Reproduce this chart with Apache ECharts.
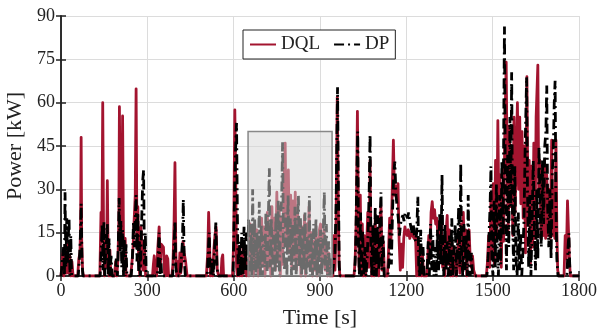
<!DOCTYPE html>
<html><head><meta charset="utf-8">
<script src="https://cdn.jsdelivr.net/npm/echarts@6/dist/echarts.min.js"></script>
<style>html,body{margin:0;padding:0;background:#fff}#c{width:600px;height:333px}</style>
</head><body><div id="c"></div>
<script>
const xTicks = [0, 300, 600, 900, 1200, 1500, 1800];
const yTicks = [0, 15, 30, 45, 60, 75, 90];
const seriesNames = ['DQL', 'DP'];
const zoomBox = [650, 0, 942, 50];

const dqlData = [
[0,0],[4,0],[7,8],[10,0],[14,9],[18,1],[22,11],[26,1],[30,7],[34,0],[38,5],[42,0],
[58,0],[62,6],[66,8],[68,18],[70,48],[72,12],[75,2],[78,0],
[135,0],[139,22],[142,12],[145,60],[148,14],[151,0],[155,12],[158,3],[161,33],[164,5],[167,0],[170,9],[173,0],
[186,0],[190,5],[194,0],[198,6],[201,20],[203,58.6],[206,22],[209,12],[212,30],[214,55.4],[217,14],[220,3],[223,13],[226,0],[229,0],
[242,0],[246,4],[250,9],[254,19],[258,28],[261,64.8],[264,10],[267,24],[270,5],[274,0],[278,17],[282,6],[286,2],[290,12],[294,0],[298,0],
[318,0],[321,4],[324,7],[328,1],[332,0],[336,9],[341,17],[345,2],[348,11],[352,11],[356,10],[360,1],[364,0],[367,7],[371,6],[374,0],
[385,0],[389,4],[393,19],[396,39.2],[399,8],[402,0],[406,5],[410,0],[413,8],[416,1],[420,4],[424,12],[428,8],[433,5],[438,0],
[505,0],[510,8],[513,22],[516,12],[519,0],[523,5],[527,0],[531,9],[535,14],[539,17],[543,2],[548,0],[556,0],[559,6],[562,7.3],[565,0],
[596,0],[600,12],[604,57.5],[607,35],[610,3],[613,0],[617,10],[621,0],[625,8],[629,0],[633,12],[637,1],[641,10],[645,0],[649,6],
[653,0],[657,18],[661,2],[665,15],[669,0],[673,18],[677,3],[681,16],[685,0],[689,12],[693,2],[697,20],[701,4],[705,17],[709,0],[713,14],[717,22],[721,3],[725,18],[729,0],[733,24],[737,6],[741,20],[745,2],[750,29],[754,5],[758,24],[762,0],[766,20],[770,4],[775,32],[779,46],[783,12],[787,30],[790,36.7],[794,8],[798,28],[802,3],[806,26],[810,6],[814,29],[818,2],[822,22],[826,5],[830,19],[834,0],[838,17],[842,3],[846,21],[850,0],[854,18],[858,4],[862,24],[866,2],[870,15],[874,0],[878,12],[882,2],[886,14],[890,0],[894,10],[898,16],[902,18],[906,3],[910,12],[914,16],[918,2],[922,11],[926,0],[930,8],[934,0],[938,0],
[945,0],[948,14],[952,2],[956,20],[960,62],[963,30],[966,5],[969,0],[973,0],
[1018,0],[1022,5],[1026,20],[1030,57],[1033,25],[1036,2],[1040,28],[1043,2],[1047,18],[1050,0],[1054,14],[1058,0],[1062,10],[1066,22],[1070,3],[1074,40],[1077,8],[1080,0],[1084,14],[1088,0],[1092,20],[1096,2],[1100,14],[1104,0],[1108,18],[1112,24],[1116,2],[1120,12],[1124,0],[1134,0],[1138,8],[1142,20],[1146,10],[1150,25],[1155,47],[1159,28],[1163,31],[1167,29],[1171,32],[1175,12],[1179,2],[1183,11],[1187,3],[1191,13],[1195,17],[1199,15],[1203,14],[1207,16],[1212,13],[1217,15],[1222,14],[1227,13],[1232,14],[1236,0],[1240,12],[1244,0],[1248,10],[1252,0],[1256,8],[1260,0],[1264,0],
[1270,0],[1274,6],[1278,14],[1282,6],[1286,22],[1290,25.7],[1294,20],[1298,23],[1302,18],[1306,20],[1310,14],[1314,19],[1318,6],[1322,18],[1326,3],[1330,12],[1334,0],[1338,15],[1342,21],[1346,4],[1350,16],[1354,0],[1358,12],[1362,0],[1366,10],[1370,3],[1374,0],[1378,8],[1382,14],[1386,1],[1390,18],[1394,3],[1398,22],[1402,6],[1406,16],[1410,0],[1414,12],[1418,16],[1422,6],[1426,3],[1430,7],[1434,2],[1440,0],
[1478,0],[1482,5],[1486,14],[1490,3],[1494,28],[1498,6],[1502,32],[1506,4],[1510,40],[1514,12],[1518,53.8],[1522,18],[1526,35],[1530,3],[1534,30],[1538,12],[1542,48],[1547,74],[1550,40],[1554,16],[1558,52],[1562,24],[1566,45],[1570,14],[1574,55],[1578,22],[1582,42],[1586,60],[1590,30],[1594,55],[1598,25],[1602,50],[1606,20],[1610,45],[1614,8],[1619,69],[1623,20],[1627,40],[1631,4],[1635,38],[1639,10],[1643,46],[1647,13],[1651,55],[1657,73],[1660,30],[1664,40],[1668,13],[1672,38],[1676,14],[1680,40],[1684,13],[1688,35],[1692,14],[1696,30],[1700,13],[1705,47],[1709,14],[1713,30],[1716,13],[1720,47],[1723,16],[1726,2],[1730,0],[1748,0],[1752,14],[1756,6],[1760,26],[1764,25.5],[1767,5],[1770,0],[1800,0]
];

const dpData = [
[0,0],[6,0],[9,10],[12,0],[14,29],[17,3],[20,20],[23,4],[26,15],[28,20],[31,0],[34,14],[37,0],[40,0],
[60,0],[64,6],[67,12],[70,25],[73,5],[76,0],
[136,0],[140,10],[143,18],[146,2],[149,19],[152,0],[155,8],[158,12],[161,18],[164,0],[167,13],[170,0],[174,7],[178,0],
[188,0],[192,6],[196,0],[199,10],[202,27],[205,8],[208,19],[211,3],[214,16],[217,0],[220,13],[223,0],[226,11],[229,0],
[244,0],[248,6],[252,19],[255,10],[258,20],[261,28],[264,5],[267,22],[270,0],[273,12],[276,0],[280,18],[284,33],[287,36.7],[290,4],[293,15],[296,0],
[335,0],[338,8],[341,15],[344,0],[347,6],[350,0],
[388,0],[392,8],[396,19],[399,3],[403,0],[407,0],[414,0],[418,6],[422,12],[425,26.5],[428,6],[432,0],[436,0],
[508,0],[512,9],[515,15],[518,2],[522,0],[526,6],[530,0],[534,10],[538,18.5],[542,3],[546,0],
[598,0],[602,22],[606,42],[610,53],[613,20],[616,0],[620,12],[624,0],[628,15],[632,0],[636,17],[640,2],[644,15],[648,2],
[652,20],[656,0],[660,18],[663,0],[666,30],[669,2],[673,20],[677,0],[681,15],[685,2],[689,25.7],[692,0],[696,18],[700,0],[704,14],[708,3],[712,22],[716,0],[720,18],[724,37.3],[727,3],[731,20],[735,0],[739,16],[743,1],[747,22],[751,3],[755,26],[759,0],[763,18],[767,28],[770,46.3],[773,8],[777,2],[781,22],[785,0],[789,28],[793,5],[797,20],[801,0],[805,18],[809,2],[813,24],[817,0],[821,15],[825,28],[828,3],[832,20],[836,0],[840,17],[844,2],[848,22],[852,0],[856,14],[860,3],[863,27.7],[866,0],[870,15],[874,0],[878,18],[882,2],[886,20],[890,0],[894,13],[898,1],[902,16],[906,0],[910,10],[915,29.2],[918,2],[922,18],[926,0],[930,12],[934,0],[938,6],[942,0],
[948,0],[952,8],[956,25],[959,50],[961,65.3],[964,30],[967,3],[970,0],
[1020,0],[1024,10],[1028,35],[1031,50],[1034,10],[1037,0],[1041,22],[1044,0],[1048,16],[1052,0],[1056,10],[1060,0],[1064,6],[1068,18],[1071,30],[1074,49],[1077,10],[1080,0],[1084,18],[1088,0],[1092,24],[1096,0],[1100,21],[1104,2],[1108,18],[1112,29],[1115,2],[1119,14],[1123,0],[1127,0],[1136,0],[1140,6],[1144,18],[1148,4],[1152,22],[1156,35],[1160,39.6],[1164,28],[1168,24],[1172,20],[1176,14],[1180,18],[1184,20],[1188,21],[1192,19],[1196,22],[1200,21],[1204,20],[1208,22],[1212,19],[1216,17],[1220,15],[1224,18],[1228,14],[1232,12],[1236,15],[1240,27.4],[1243,4],[1246,0],[1250,16],[1254,0],[1258,10],[1262,0],
[1272,0],[1276,12],[1280,0],[1284,18],[1288,2],[1292,14],[1296,0],[1300,10],[1304,0],[1308,16],[1312,2],[1316,22],[1320,4],[1324,35],[1327,8],[1330,0],[1334,18],[1338,2],[1342,12],[1346,0],[1350,14],[1354,0],[1358,20],[1362,0],[1366,10],[1370,18],[1374,0],[1378,12],[1382,24],[1386,3],[1389,39],[1392,8],[1396,0],[1400,18],[1404,2],[1408,14],[1412,0],[1415,28],[1418,5],[1422,0],[1426,8],[1430,0],
[1480,0],[1484,6],[1488,16],[1491,24],[1494,38],[1497,6],[1501,0],[1505,26],[1509,3],[1513,32],[1516,8],[1520,0],[1524,28],[1528,4],[1532,40],[1536,14],[1539,60],[1541,86.4],[1544,30],[1548,2],[1552,42],[1556,10],[1560,55],[1563,24],[1566,70.5],[1569,20],[1573,2],[1577,38],[1581,6],[1585,0],[1589,22],[1593,2],[1597,15],[1601,0],[1605,8],[1609,20],[1613,45],[1618,68.8],[1621,30],[1625,3],[1629,28],[1633,0],[1637,18],[1641,40],[1645,15],[1649,2],[1653,30],[1657,6],[1661,45],[1665,24],[1669,10],[1673,40],[1677,18],[1681,45],[1685,50],[1688,65.9],[1691,24],[1695,10],[1699,30],[1703,6],[1707,35],[1711,45],[1714,60],[1717,67.6],[1720,24],[1723,6],[1727,0],[1731,0],[1758,0],[1762,10],[1765,14.8],[1768,3],[1772,0],[1800,0]
];

const FONT = 'Liberation Serif';
const chart = echarts.init(document.getElementById('c'), null, {renderer: 'canvas'});
const axisCommon = {
  axisLine: {show: true, lineStyle: {color: '#222', width: 1.5}},
  axisTick: {show: true, inside: true, length: 5, lineStyle: {color: '#222', width: 1.5}},
};
chart.setOption({
  animation: false,
  grid: {left: 61, right: 21, top: 16, bottom: 57, outerBoundsMode: 'none', containLabel: false},
  legend: {
    data: seriesNames,
    left: 243, top: 30,
    orient: 'horizontal',
    backgroundColor: '#fff',
    borderColor: '#222', borderWidth: 1,
    padding: [5, 6],
    itemWidth: 26, itemHeight: 10, itemGap: 13,
    itemStyle: {opacity: 0},
    textStyle: {fontFamily: FONT, fontSize: 19, color: '#222'}
  },
  xAxis: [
    Object.assign({type: 'value', min: xTicks[0], max: xTicks[xTicks.length-1], interval: 300,
      name: 'Time [s]', nameLocation: 'middle', nameGap: 31,
      nameTextStyle: {fontFamily: FONT, fontSize: 22, color: '#222'},
      axisLabel: {fontFamily: FONT, fontSize: 18, color: '#222', margin: 6, formatter: v => String(v)},
      splitLine: {show: true, lineStyle: {color: '#dcdcdc', width: 1}}}, axisCommon),
    Object.assign({type: 'value', position: 'top', min: 0, max: 1800, interval: 300,
      axisLabel: {show: false}, splitLine: {show: false}}, axisCommon)
  ],
  yAxis: [
    Object.assign({type: 'value', min: yTicks[0], max: yTicks[yTicks.length-1], interval: 15,
      name: 'Power [kW]', nameLocation: 'middle', nameGap: 31,
      nameTextStyle: {fontFamily: FONT, fontSize: 22, color: '#222'},
      axisLabel: {fontFamily: FONT, fontSize: 18, color: '#222', margin: 6},
      splitLine: {show: true, lineStyle: {color: '#dcdcdc', width: 1}}}, axisCommon),
    Object.assign({type: 'value', position: 'right', min: 0, max: 90, interval: 15,
      axisLabel: {show: false}, splitLine: {show: false}}, axisCommon)
  ],
  series: [
    {name: seriesNames[0], type: 'line', data: dqlData, showSymbol: false, symbol: 'none', z: 2,
      lineStyle: {color: '#a3142f', width: 2.8, join: 'round'}, itemStyle: {color: '#a3142f'}},
    {name: seriesNames[1], type: 'line', data: dpData, showSymbol: false, symbol: 'none', z: 3,
      lineStyle: {color: '#000', width: 2.8, type: [10, 4, 2, 4]}, itemStyle: {color: '#000'}},
    {name: 'box', type: 'custom', z: 10, silent: true, data: [zoomBox],
      renderItem: function (params, api) {
        const p0 = api.coord([api.value(0), api.value(3)]);
        const p1 = api.coord([api.value(2), api.value(1)]);
        return {type: 'rect',
          shape: {x: p0[0], y: p0[1], width: p1[0] - p0[0], height: p1[1] - p0[1]},
          style: {fill: 'rgba(214,214,214,0.5)', stroke: '#888', lineWidth: 1.5}};
      }}
  ]
});
</script></body></html>
